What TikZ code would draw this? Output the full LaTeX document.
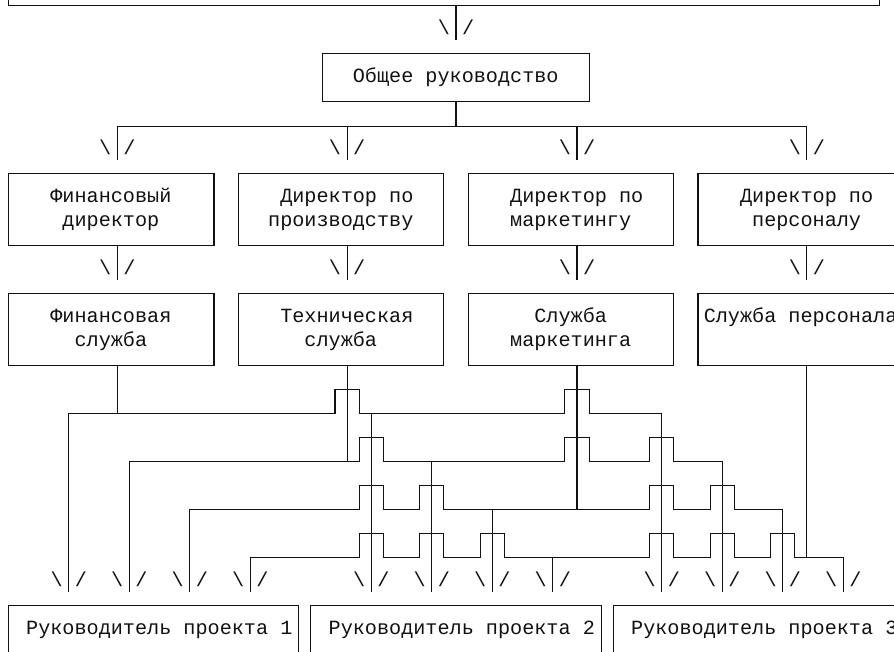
\documentclass[tikz,border=0pt]{standalone}
\usepackage{fontspec}
\usetikzlibrary{fit,calc}
\newfontfamily\asciifont{Liberation Mono}
\definecolor{ink}{HTML}{111111}
\newcommand{\cellfont}{\asciifont\fontsize{15.125}{18}\selectfont}

\begin{document}
\begin{tikzpicture}[x=9.075pt,y=18pt,font=\cellfont,
  box/.style={draw=ink,line width=0.8pt,inner sep=0pt},
  wire/.style={draw=ink,line width=0.8pt},
  hop/.style={to path={-- ++(0,1) -| (\tikztotarget)}},
  glyph/.style={inner sep=0pt,text height=13.1pt,text depth=4.9pt,text=ink},
  txt/.style={glyph,anchor=west},
  asciitip/.pic={\node[glyph] (-l) at (-1,0) {\textbackslash};
                 \node[glyph] (-r) at (1,0) {/};}]
\useasboundingbox (-0.686,0.229) rectangle (73.198,-26.896);

% boxes (one character cell = 1 x 1)
\node[box,fit={(0,3) (72,0)}] (top) {};
\node[box,fit={(26,-2) (48,-4)}] (gen) {};
\node[txt] (gen-a) at ($(gen.north west)+(2.5,-1)$) {Общее руководство};

\node[box,fit={(0,-7) (17,-10)}] (dfin) {};
\node[box,fit={(19,-7) (36,-10)}] (dpro) {};
\node[box,fit={(38,-7) (55,-10)}] (dmar) {};
\node[box,fit={(57,-7) (74,-10)}] (dper) {};
\node[txt] (dfin-a) at ($(dfin.north west)+(3.5,-1)$) {Финансовый};
\node[txt] (dfin-b) at ($(dfin.north west)+(4.5,-2)$) {директор};
\node[txt] (dpro-a) at ($(dpro.north west)+(3.5,-1)$) {Директор по};
\node[txt] (dpro-b) at ($(dpro.north west)+(2.5,-2)$) {производству};
\node[txt] (dmar-a) at ($(dmar.north west)+(3.5,-1)$) {Директор по};
\node[txt] (dmar-b) at ($(dmar.north west)+(3.5,-2)$) {маркетингу};
\node[txt] (dper-a) at ($(dper.north west)+(3.5,-1)$) {Директор по};
\node[txt] (dper-b) at ($(dper.north west)+(4.5,-2)$) {персоналу};

\node[box,fit={(0,-12) (17,-15)}] (sfin) {};
\node[box,fit={(19,-12) (36,-15)}] (stec) {};
\node[box,fit={(38,-12) (55,-15)}] (smar) {};
\node[box,fit={(57,-12) (74,-15)}] (sper) {};
\node[txt] (sfin-a) at ($(sfin.north west)+(3.5,-1)$) {Финансовая};
\node[txt] (sfin-b) at ($(sfin.north west)+(5.5,-2)$) {служба};
\node[txt] (stec-a) at ($(stec.north west)+(3.5,-1)$) {Техническая};
\node[txt] (stec-b) at ($(stec.north west)+(5.5,-2)$) {служба};
\node[txt] (smar-a) at ($(smar.north west)+(5.5,-1)$) {Служба};
\node[txt] (smar-b) at ($(smar.north west)+(3.5,-2)$) {маркетинга};
\node[txt] (sper-a) at ($(sper.north west)+(0.5,-1)$) {Служба персонала};

\node[box,fit={(0,-25) (24,-27)}] (pm1) {};
\node[box,fit={(25,-25) (49,-27)}] (pm2) {};
\node[box,fit={(50,-25) (74,-27)}] (pm3) {};
\foreach \p in {1,2,3}
  \node[txt] (pm\p-a) at ($(pm\p.north west)+(1.5,-1)$) {Руководитель проекта \p};

% ports
\foreach \b in {dfin,dpro,dmar,dper,sfin,stec,smar,sper}{
  \coordinate (\b-in) at ($(\b.north)+(.5,.556)$);
  \coordinate (\b-out) at ($(\b.south)+(.5,0)$);
  \pic (\b-tip) at ($(\b.north)+(.5,1)$) {asciitip};
}
\foreach \c in {5,10,15,20,30,35,40,45,54,59,64,69}{
  \coordinate (in\c) at ($(\c,0 |- pm1.north)+(0,.556)$);
  \pic (tip\c) at ($(\c,0 |- pm1.north)+(0,1)$) {asciitip};
}
\coordinate (r17) at (0,-17);
\coordinate (r19) at (0,-19);
\coordinate (r21) at (0,-21);
\coordinate (r23) at (0,-23);

% top part
\draw[wire] (top.south -| gen.north) -- ($(gen.north)+(0,.556)$);
\pic (gen-tip) at ($(gen.north)+(0,1)$) {asciitip};
\draw[wire] (gen.south) -- ++(0,-1) coordinate (bus);
\draw[wire] (dfin-in) |- (bus) -| (dper-in);
\draw[wire] (dpro-in) -- (dpro-in |- bus);
\draw[wire] (dmar-in) -- (dmar-in |- bus);
\foreach \d/\s in {dfin/sfin,dpro/stec,dmar/smar,dper/sper}
  \draw[wire] (\d-out) -- (\s-in);

% finance
\draw[wire] (sfin-out) -- (sfin-out |- r17);
\draw[wire] (in5) |- (27,-17) to[hop] (29,-17) -- (46,-17) to[hop] (48,-17) -| (in54);
\draw[wire] (in30) -- (in30 |- r17);
% technical
\draw[wire] (stec-out) -- (stec-out |- r19);
\draw[wire] (in10) |- (29,-19) to[hop] (31,-19) -- (46,-19) to[hop] (48,-19)
  -- (53,-19) to[hop] (55,-19) -| (in59);
\draw[wire] (in35) -- (in35 |- r19);
% marketing
\draw[wire] (smar-out) -- (smar-out |- r21);
\draw[wire] (in15) |- (29,-21) to[hop] (31,-21) -- (34,-21) to[hop] (36,-21)
  -- (53,-21) to[hop] (55,-21) -- (58,-21) to[hop] (60,-21) -| (in64);
\draw[wire] (in40) -- (in40 |- r21);
% personnel
\draw[wire] (sper-out) -- (sper-out |- r23);
\draw[wire] (in20) |- (29,-23) to[hop] (31,-23) -- (34,-23) to[hop] (36,-23)
  -- (39,-23) to[hop] (41,-23) -- (53,-23) to[hop] (55,-23)
  -- (58,-23) to[hop] (60,-23) -- (63,-23) to[hop] (65,-23) -| (in69);
\draw[wire] (in45) -- (in45 |- r23);
\end{tikzpicture}
\end{document}
